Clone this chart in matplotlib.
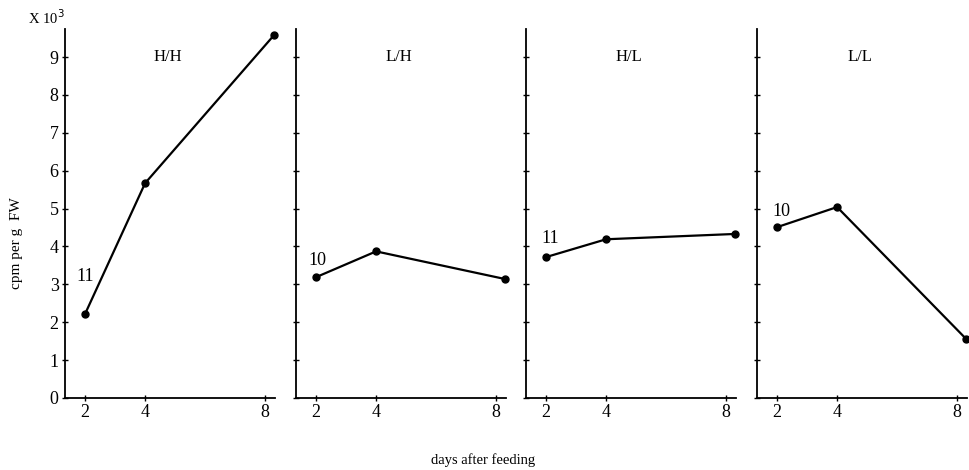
import matplotlib
matplotlib.use("Agg")
import matplotlib.pyplot as plt

plt.rcParams['font.family'] = ['Liberation Serif', 'DejaVu Serif']

# data (cpm per g FW, x 10^3)
days = [2, 4, 8.3]
panels = ["H/H", "L/H", "H/L", "L/L"]
hh = [2.22, 5.67, 9.58]
lh = [3.19, 3.87, 3.14]
hl = [3.72, 4.19, 4.33]
ll = [4.51, 5.04, 1.56]
series = [hh, lh, hl, ll]
n_labels = ["11", "10", "11", "10"]
n_label_x = [2.0, 2.05, 2.13, 2.13]
n_label_y = [3.2, 3.64, 4.2, 4.93]

fig = plt.figure(figsize=(9.69, 4.70), dpi=100)

lefts = [65, 296, 526, 757]
for i in range(4):
    ax = fig.add_axes([lefts[i] / 969, 1 - 398 / 470, 210 / 969, (398 - 29) / 470])
    ax.plot(days, series[i], color='black', lw=1.6, marker='o', ms=5, clip_on=False)
    ax.set_xlim(1.33, 8.33)
    ax.set_ylim(0, 9.74)
    ax.spines['top'].set_visible(False)
    ax.spines['right'].set_visible(False)
    for s in ['left', 'bottom']:
        ax.spines[s].set_linewidth(1.3)
    ax.set_xticks([2, 4, 8])
    ax.set_yticks(range(10))
    ax.tick_params(axis='both', direction='inout', length=5, width=1, labelsize=13, pad=2)
    if i > 0:
        ax.set_yticklabels([])
    ax.text(0.49, 0.925, panels[i], transform=ax.transAxes, ha='center', va='center', fontsize=12)
    ax.text(n_label_x[i], n_label_y[i], n_labels[i], ha='center', va='center', fontsize=13)
    ax.patch.set_alpha(0)

fig.text(28 / 969, 1 - 18 / 470, "X 10$^3$", fontsize=10.5, ha='left', va='center')
fig.text(17 / 969, 1 - 243 / 470, "cpm per g  FW", rotation=90, fontsize=11, ha='center', va='center')
fig.text(483 / 969, 1 - 460 / 470, "days after feeding", fontsize=10.5, ha='center', va='center')

fig.savefig("out.png", dpi=100)
